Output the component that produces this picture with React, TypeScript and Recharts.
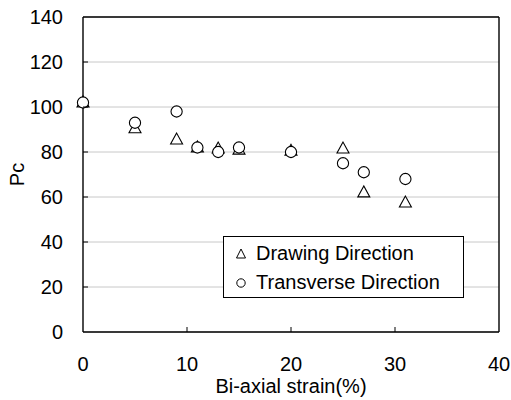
import React from 'react';
import { ScatterChart, Scatter, XAxis, YAxis, CartesianGrid, ReferenceLine, Legend } from 'recharts';

const strain = [0, 5, 9, 11, 13, 15, 20, 25, 27, 31];
const drawing = [102, 90.5, 85.5, 82, 81.5, 81, 80.5, 81.5, 62, 57.5];
const transverse = [102, 93, 98, 82, 80, 82, 80, 75, 71, 68];
const xTicks = [0, 10, 20, 30, 40];
const yTicks = [0, 20, 40, 60, 80, 100, 120, 140];
const seriesNames = ['Drawing Direction', 'Transverse Direction'];

const drawingData = strain.map((x, i) => ({ x, y: drawing[i] }));
const transverseData = strain.map((x, i) => ({ x, y: transverse[i] }));

const FONT = '"Liberation Sans", Arial, sans-serif';
const FS = 20;

const Triangle = (props: any) => {
  const { cx, cy } = props;
  const h = 11, w = 12;
  return (
    <polygon
      points={`${cx},${cy - h * 0.6} ${cx - w / 2},${cy + h * 0.4} ${cx + w / 2},${cy + h * 0.4}`}
      fill="#fff" stroke="#000" strokeWidth={1.1}
    />
  );
};
const Circle = (props: any) => {
  const { cx, cy } = props;
  return <circle cx={cx} cy={cy} r={5.6} fill="#fff" stroke="#000" strokeWidth={1.1} />;
};

const YTick = (props: any) => {
  const { x, y, payload } = props;
  const ax = x + 20;
  return (
    <g>
      {payload.value !== 0 && payload.value !== 140 && <line x1={ax} y1={y} x2={ax + 5} y2={y} stroke="#000" strokeWidth={1} />}
      <text x={x} y={y} dy="0.355em" textAnchor="end" fontFamily={FONT} fontSize={FS} fill="#000">{payload.value}</text>
    </g>
  );
};
const XTick = (props: any) => {
  const { x, y, payload } = props;
  return (
    <g>
      {payload.value !== 0 && payload.value !== 40 && <line x1={x} y1={y} x2={x} y2={y - 5} stroke="#000" strokeWidth={1} />}
      <text x={x} y={y + 32} dy="0.355em" textAnchor="middle" fontFamily={FONT} fontSize={FS} fill="#000">{payload.value}</text>
    </g>
  );
};

const LegendBox = () => (
  <div style={{ border: '1px solid #000', background: '#fff', width: 239, height: 60, fontFamily: FONT, fontSize: FS, color: '#000', boxSizing: 'content-box' }}>
    <div style={{ display: 'flex', alignItems: 'center', height: 29, marginTop: 2 }}>
      <svg width={32} height={20}><polygon points="17,5 12.5,14 21.5,14" fill="#fff" stroke="#000" strokeWidth={1} /></svg>
      <span>{seriesNames[0]}</span>
    </div>
    <div style={{ display: 'flex', alignItems: 'center', height: 29 }}>
      <svg width={32} height={20}><circle cx={17} cy={10} r={4.2} fill="#fff" stroke="#000" strokeWidth={1} /></svg>
      <span>{seriesNames[1]}</span>
    </div>
  </div>
);

export default function App() {
  return (
    <div style={{ position: 'absolute', left: 0, top: 0, width: 511, height: 400, background: '#fff' }}>
      <ScatterChart width={511} height={400} margin={{ top: 17, right: 12, bottom: 0, left: 0 }}>
        <CartesianGrid vertical={false} stroke="#c8c8c8" strokeWidth={1} />
        <XAxis
          type="number" dataKey="x" domain={[0, 40]} ticks={xTicks} height={68}
          tickSize={0} tickMargin={0} tick={<XTick />} tickLine={false}
          axisLine={{ stroke: '#000', strokeWidth: 1.4 }}
          label={{
            content: (p: any) => {
              const vb = p.viewBox;
              return <text x={vb.x + vb.width / 2} y={vb.y + 54} dy="0.355em" textAnchor="middle" fontFamily={FONT} fontSize={FS} fill="#000">Bi-axial strain(%)</text>;
            },
          }}
        />
        <YAxis
          type="number" dataKey="y" domain={[0, 140]} ticks={yTicks} width={83}
          tickSize={0} tickMargin={20} tick={<YTick />} tickLine={false}
          axisLine={{ stroke: '#000', strokeWidth: 1.4 }}
          label={{
            content: (p: any) => {
              const vb = p.viewBox;
              const cx = vb.x + 17, cy = vb.y + vb.height / 2;
              return <text x={cx} y={cy} dy="0.355em" textAnchor="middle" transform={`rotate(-90 ${cx} ${cy})`} fontFamily={FONT} fontSize={FS} fill="#000">Pc</text>;
            },
          }}
        />
        <ReferenceLine y={140} stroke="#000" strokeWidth={1.4} />
        <ReferenceLine x={40} stroke="#000" strokeWidth={1.4} />
        <Scatter name={seriesNames[0]} data={drawingData} shape={<Triangle />} isAnimationActive={false} />
        <Scatter name={seriesNames[1]} data={transverseData} shape={<Circle />} isAnimationActive={false} />
        <Legend layout="vertical" align="center" verticalAlign="middle" content={<LegendBox />}
          wrapperStyle={{ left: 223, top: 236, width: 241, height: 62 }} />
      </ScatterChart>
    </div>
  );
}
